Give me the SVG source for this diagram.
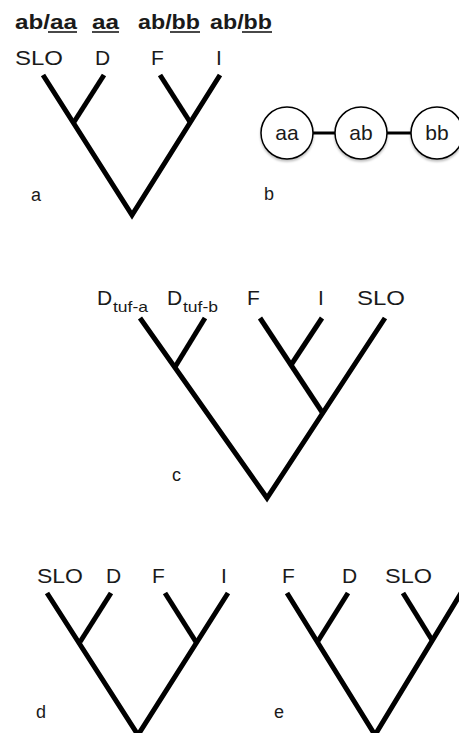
<svg xmlns="http://www.w3.org/2000/svg" width="459" height="733" viewBox="0 0 459 733">
<defs>
<style>
.br{stroke:#000;stroke-width:5;fill:none;stroke-linecap:butt;stroke-linejoin:miter}
.t{font-family:"Liberation Sans",Arial,sans-serif;font-size:21px;fill:#1a1a1a}
.g{font-family:"Liberation Sans",Arial,sans-serif;font-size:20px;font-weight:bold;fill:#1a1a1a}
.sub{font-family:"Liberation Sans",Arial,sans-serif;font-size:15px;fill:#1a1a1a}
.lb{font-family:"Liberation Sans",Arial,sans-serif;font-size:18px;fill:#1a1a1a}
.ul{stroke:#1a1a1a;stroke-width:1.6}
.node{fill:#fff;stroke:#000;stroke-width:1.5}
.edge{stroke:#000;stroke-width:3}
</style>
<filter id="sh" x="-20%" y="-20%" width="140%" height="150%">
<feDropShadow dx="0" dy="2" stdDeviation="1.2" flood-color="#000" flood-opacity="0.25"/>
</filter>
</defs>

<g id="genotypes">
<text class="g" x="15" y="29" textLength="62" lengthAdjust="spacingAndGlyphs">ab/aa</text>
<line class="ul" x1="48" y1="32" x2="77" y2="32"/>
<text class="g" x="92" y="29" textLength="27" lengthAdjust="spacingAndGlyphs">aa</text>
<line class="ul" x1="92" y1="32" x2="119" y2="32"/>
<text class="g" x="138" y="29" textLength="62" lengthAdjust="spacingAndGlyphs">ab/bb</text>
<line class="ul" x1="170" y1="32" x2="200" y2="32"/>
<text class="g" x="210" y="29" textLength="62" lengthAdjust="spacingAndGlyphs">ab/bb</text>
<line class="ul" x1="242" y1="32" x2="272" y2="32"/>
</g>

<g id="tree-a">
<text class="t" x="15" y="65" textLength="48" lengthAdjust="spacingAndGlyphs">SLO</text>
<text class="t" x="95" y="65">D</text>
<text class="t" x="151" y="65">F</text>
<text class="t" x="216" y="65">I</text>
<polyline class="br" points="43,75 132,215 220,75"/>
<line class="br" x1="104" y1="75" x2="74" y2="122"/>
<line class="br" x1="160" y1="75" x2="190" y2="122"/>
<text class="lb" x="31" y="201">a</text>
</g>

<g id="connectors">
<line class="edge" x1="313" y1="133" x2="335" y2="133"/>
<line class="edge" x1="387" y1="133" x2="411" y2="133"/>
</g>

<g id="node-aa">
<circle class="node" cx="287" cy="133" r="26" filter="url(#sh)"/>
<text class="t" x="287" y="140" text-anchor="middle">aa</text>
</g>
<g id="node-ab">
<circle class="node" cx="361" cy="133" r="26" filter="url(#sh)"/>
<text class="t" x="361" y="140" text-anchor="middle">ab</text>
</g>
<g id="node-bb">
<circle class="node" cx="437" cy="133" r="26" filter="url(#sh)"/>
<text class="t" x="437" y="140" text-anchor="middle">bb</text>
</g>
<g id="label-b">
<text class="lb" x="264" y="200">b</text>
</g>

<g id="tree-c">
<text class="t" x="97" y="305">D</text>
<text class="sub" x="113" y="312" textLength="35" lengthAdjust="spacingAndGlyphs">tuf-a</text>
<text class="t" x="167" y="305">D</text>
<text class="sub" x="183" y="312" textLength="35" lengthAdjust="spacingAndGlyphs">tuf-b</text>
<text class="t" x="247" y="305">F</text>
<text class="t" x="318" y="305">I</text>
<text class="t" x="357" y="305" textLength="48" lengthAdjust="spacingAndGlyphs">SLO</text>
<polyline class="br" points="140,318 267,498 385,318"/>
<line class="br" x1="205" y1="318" x2="175" y2="367"/>
<line class="br" x1="260" y1="318" x2="322" y2="412"/>
<line class="br" x1="322" y1="318" x2="291" y2="365"/>
<text class="lb" x="172" y="481">c</text>
</g>

<g id="tree-d">
<text class="t" x="37" y="583" textLength="46" lengthAdjust="spacingAndGlyphs">SLO</text>
<text class="t" x="106" y="583">D</text>
<text class="t" x="152" y="583">F</text>
<text class="t" x="221" y="583">I</text>
<polyline class="br" points="47,593 138,735 228,593"/>
<line class="br" x1="111" y1="593" x2="80" y2="642"/>
<line class="br" x1="165" y1="593" x2="196" y2="642"/>
<text class="lb" x="36" y="718">d</text>
</g>

<g id="tree-e">
<text class="t" x="282" y="583">F</text>
<text class="t" x="342" y="583">D</text>
<text class="t" x="385" y="583" textLength="47" lengthAdjust="spacingAndGlyphs">SLO</text>
<polyline class="br" points="287,593 375,735 461,593"/>
<line class="br" x1="348" y1="593" x2="318" y2="641"/>
<line class="br" x1="403" y1="593" x2="432" y2="640"/>
<text class="lb" x="274" y="718">e</text>
</g>
</svg>
